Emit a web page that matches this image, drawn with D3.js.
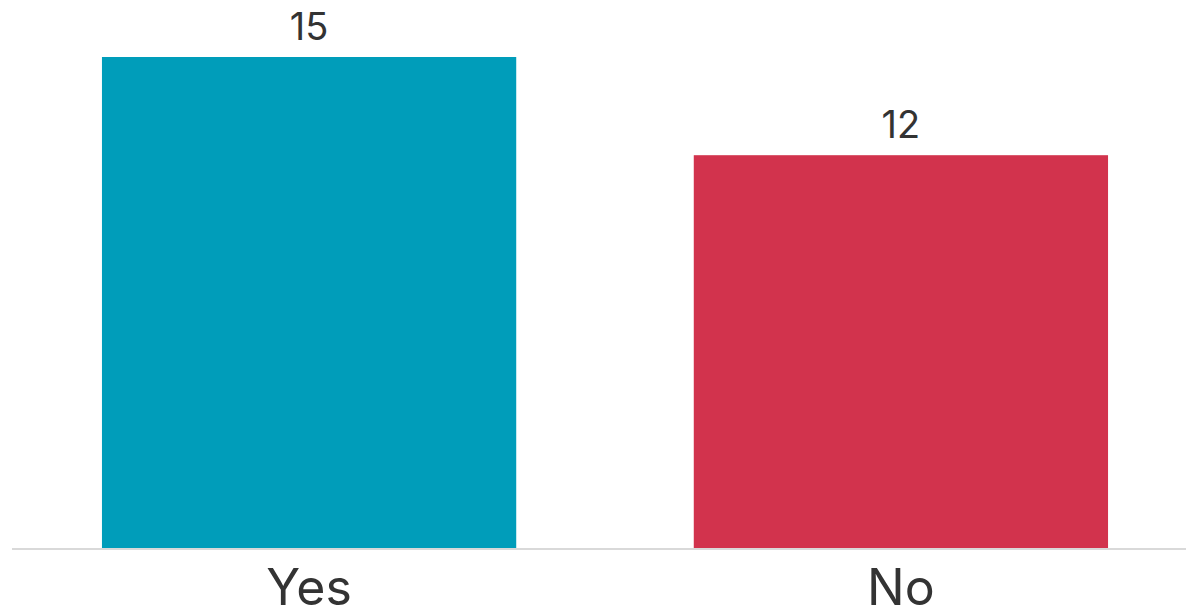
<!DOCTYPE html>
<html>
<head>
<meta charset="utf-8">
<script src="https://cdn.jsdelivr.net/npm/d3@7"></script>
<style>
  html, body { margin: 0; padding: 0; background: #fff; }
  svg { display: block; }
  text { font-family: "Inter", "Noto Sans", "Liberation Sans", sans-serif; fill: #333; }
</style>
</head>
<body>
<svg id="chart" width="1186" height="612"></svg>
<script>
const categories = ["Yes", "No"];
const values = [15, 12];
const colors = ["#009DBA", "#D2334D"];

const width = 1186, height = 612;
const baseY = 548;

const svg = d3.select("#chart");

const x = d3.scaleBand()
  .domain(categories)
  .range([12, 1198])
  .paddingInner(0.3)
  .paddingOuter(0.152);

const y = d3.scaleLinear()
  .domain([0, 15])
  .range([baseY, 57]);

// bars
svg.selectAll("rect.bar")
  .data(categories)
  .join("rect")
  .attr("class", "bar")
  .attr("x", d => x(d))
  .attr("width", x.bandwidth())
  .attr("y", (d, i) => y(values[i]))
  .attr("height", (d, i) => baseY - y(values[i]))
  .attr("fill", (d, i) => colors[i]);

// baseline
svg.append("line")
  .attr("x1", 12).attr("x2", width)
  .attr("y1", baseY + 1).attr("y2", baseY + 1)
  .attr("stroke", "#d9d9d9")
  .attr("stroke-width", 2);

// value labels
svg.selectAll("text.value")
  .data(categories)
  .join("text")
  .attr("class", "value")
  .attr("x", d => x(d) + x.bandwidth() / 2)
  .attr("y", (d, i) => y(values[i]) - 17)
  .attr("text-anchor", "middle")
  .attr("font-size", 38)
  .text((d, i) => values[i]);

// category axis labels
const xAxis = d3.axisBottom(x).tickSize(0).tickPadding(0);
const gx = svg.append("g")
  .attr("transform", `translate(0,${baseY})`)
  .call(xAxis);
gx.select(".domain").remove();
gx.selectAll("text")
  .attr("dy", null)
  .attr("y", 57)
  .attr("font-size", 50)
  .attr("fill", "#333")
  .style("font-family", '"Inter", "Noto Sans", "Liberation Sans", sans-serif');
</script>
</body>
</html>
